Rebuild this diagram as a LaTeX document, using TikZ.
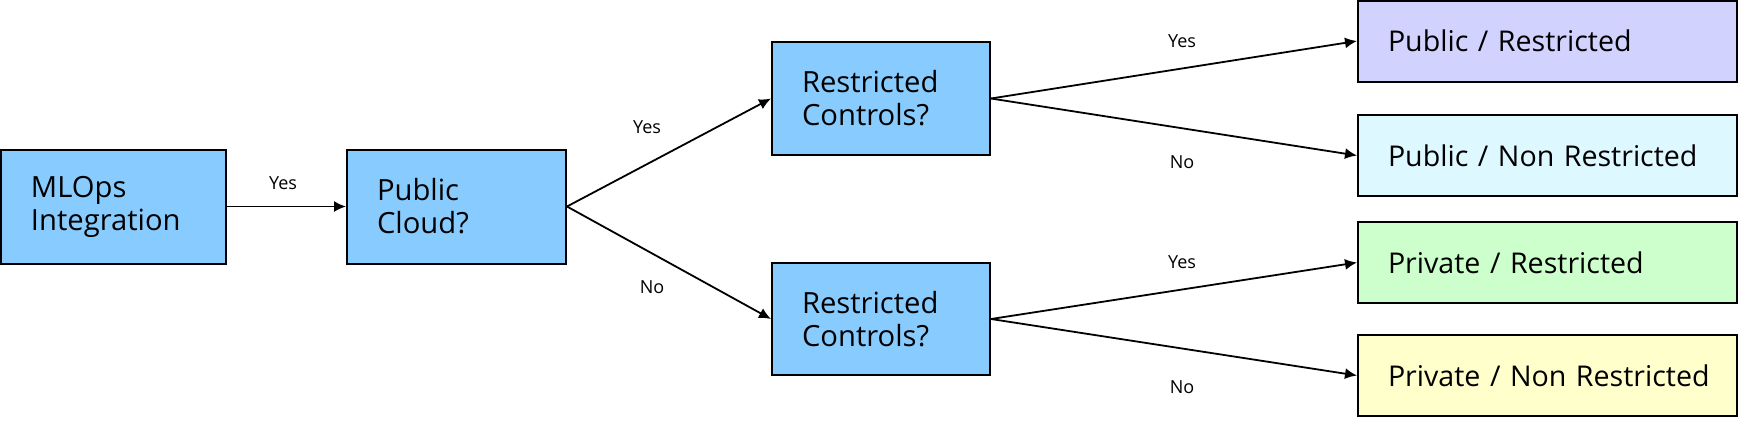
\documentclass[tikz,border=0pt]{standalone}
\usepackage{fontspec}
\setmainfont{Open Sans}
\usetikzlibrary{arrows.meta}
\definecolor{qblue}{HTML}{88CCFF}
\definecolor{leafA}{HTML}{D2D2FF}
\definecolor{leafB}{HTML}{DDF8FF}
\definecolor{leafC}{HTML}{CCFFCC}
\definecolor{leafD}{HTML}{FFFFCC}
\begin{document}
\begin{tikzpicture}[x=0.5pt,y=-0.5pt,
  basebox/.style={draw=black, line width=1pt, inner xsep=15pt, inner ysep=0pt,
    align=left, font=\fontsize{14.6}{16.5}\selectfont},
  qbox/.style={basebox, fill=qblue, minimum height=57pt},
  leafbox/.style={basebox, minimum height=40.5pt, text width=159.5pt, minimum width=189.5pt,
    font=\fontsize{14.3}{16.5}\selectfont},
  arr/.style={line width=0.9pt, -{Latex[length=6pt,width=5.5pt]}},
  lbl/.style={font=\fontsize{9}{10}\selectfont, inner sep=0pt}
]
\useasboundingbox (0,0) rectangle (1740,424);

\node[qbox, text width=82.5pt] (mlops) at (113.5,206.5) {MLOps\\Integration};
\node[qbox, text width=79.5pt] (pc) at (456.5,206.5) {Public\\Cloud?};
\node[qbox, text width=79pt, minimum height=56.5pt] (rc1) at (881,98.5) {Restricted\\Controls?};
\node[qbox, text width=79pt, minimum height=56pt] (rc2) at (881,319) {Restricted\\Controls?};

\node[leafbox, fill=leafA] (l1) at (1547.5,41) {\mbox{Public / Restricted}};
\node[leafbox, fill=leafB] (l2) at (1547.5,155.5) {\mbox{Public / Non Restricted}};
\node[leafbox, fill=leafC] (l3) at (1547.5,262.5) {\mbox{Private / Restricted}};
\node[leafbox, fill=leafD] (l4) at (1547.5,375.5) {\mbox{Private / Non Restricted}};

\draw[arr] (mlops.east) -- (pc.west);
\draw[arr] (pc.east) -- (rc1.west);
\draw[arr] (pc.east) -- (rc2.west);
\draw[arr] (rc1.east) -- (l1.west);
\draw[arr] (rc1.east) -- (l2.west);
\draw[arr] (rc2.east) -- (l3.west);
\draw[arr] (rc2.east) -- (l4.west);

\node[lbl] (t1) at (283,183) {Yes};
\node[lbl] (t2) at (647,127) {Yes};
\node[lbl] (t3) at (652,287) {No};
\node[lbl] (t4) at (1182,41) {Yes};
\node[lbl] (t5) at (1182,162) {No};
\node[lbl] (t6) at (1182,262) {Yes};
\node[lbl] (t7) at (1182,387) {No};
\end{tikzpicture}
\end{document}
